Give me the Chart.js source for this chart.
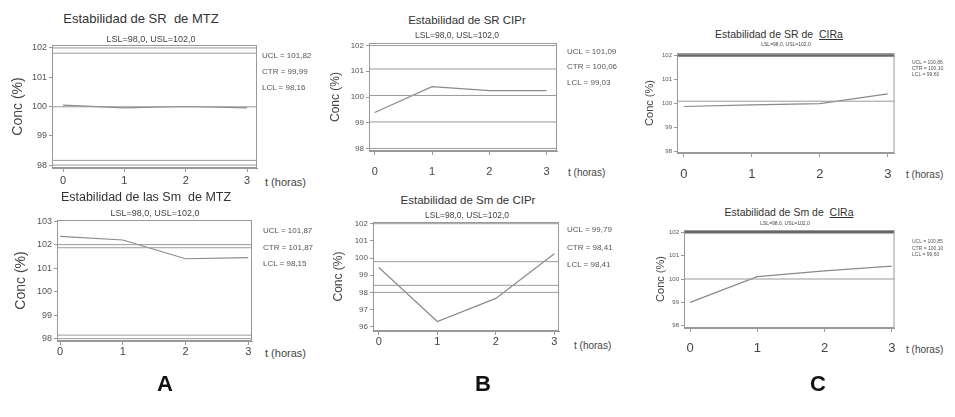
<!DOCTYPE html>
<html>
<head>
<meta charset="utf-8">
<script src="https://cdn.jsdelivr.net/npm/chart.js@4.4.1/dist/chart.umd.min.js"></script>
<style>
body { margin: 0; background: #fff; width: 955px; height: 417px; overflow: hidden; position: relative;
       font-family: "Liberation Sans", Arial, sans-serif; color: #333; }
.c { position: absolute; white-space: nowrap; transform: translate(-50%, -50%); }
.r { position: absolute; white-space: nowrap; transform: translateY(-50%); }
canvas { position: absolute; }
u { text-decoration: underline; }
</style>
</head>
<body>
<script>
// hours on the x axis
const hours = [0, 1, 2, 3];
const xTicks = [0, 1, 2, 3];

// A - MTZ
const srMTZ = [100.05, 99.95, 100.0, 99.95];
const srMTZLimits = [102.0, 101.82, 99.99, 98.16, 98.0];
const srMTZTicks = [98, 99, 100, 101, 102];
const smMTZ = [102.35, 102.2, 101.4, 101.45];
const smMTZLimits = [102.0, 101.87, 98.15, 98.0];
const smMTZTicks = [98, 99, 100, 101, 102, 103];

// B - CIPr
const srCIPr = [99.4, 100.4, 100.25, 100.25];
const srCIPrLimits = [102.0, 101.09, 100.06, 99.03, 98.0];
const srCIPrTicks = [98, 99, 100, 101, 102];
const smCIPr = [99.45, 96.3, 97.65, 100.25];
const smCIPrLimits = [102.0, 99.79, 98.41, 98.0];
const smCIPrTicks = [96, 97, 98, 99, 100, 101, 102];

// C - CIRa
const srCIRa = [99.88, 99.95, 100.0, 100.4];
const srCIRaLimits = [102.0, 100.1];
const srCIRaTicks = [98, 99, 100, 101, 102];
const smCIRa = [99.0, 100.1, 100.35, 100.55];
const smCIRaLimits = [102.0, 100.0];
const smCIRaTicks = [98, 99, 100, 101, 102];

const panels = [
    { values: srMTZ, limits: srMTZLimits, yTicks: srMTZTicks, box: [52, 45, 257, 168], yMin: 97.9, yMax: 102.1,
      xMin: -0.18, xMax: 3.16, axisW: 44, yTickSize: 9, xTickSize: 11, yTitleSize: 14, xLabelY: 181,
      title: 'Estabilidad de SR&nbsp; de MTZ', titleAt: [141, 18, 13], sub: 'LSL=98,0, USL=102,0', subAt: [151, 39, 9],
      notes: ['UCL = 101,82', 'CTR = 99,99', 'LCL = 98,16'], notesAt: [262, [55, 71, 87], 8], tAt: [265, 182, 11] },
    { values: smMTZ, limits: smMTZLimits, yTicks: smMTZTicks, box: [57, 220, 252, 341], yMin: 97.9, yMax: 103.05,
      xMin: -0.05, xMax: 3.06, axisW: 46, yTickSize: 9, xTickSize: 11, yTitleSize: 14, xLabelY: 352,
      title: 'Estabilidad de las Sm&nbsp; de MTZ', titleAt: [146, 197, 12.5], sub: 'LSL=98,0, USL=102,0', subAt: [155, 213, 9],
      notes: ['UCL = 101,87', 'CTR = 101,87', 'LCL = 98,15'], notesAt: [263, [230, 247, 263], 8], tAt: [265, 353, 11] },
    { values: srCIPr, limits: srCIPrLimits, yTicks: srCIPrTicks, box: [369, 43, 557, 151], yMin: 97.9, yMax: 102.1,
      xMin: -0.1, xMax: 3.18, axisW: 43, yTickSize: 8, xTickSize: 11, yTitleSize: 12, xLabelY: 172,
      title: 'Estabilidad de SR CIPr', titleAt: [467, 20, 11.5], sub: 'LSL=98,0, USL=102,0', subAt: [457, 35, 8.5],
      notes: ['UCL = 101,09', 'CTR = 100,06', 'LCL = 99,03'], notesAt: [567, [51, 66, 82], 8], tAt: [568, 172, 10] },
    { values: smCIPr, limits: smCIPrLimits, yTicks: smCIPrTicks, box: [373, 222, 559, 331], yMin: 95.75, yMax: 102.1,
      xMin: -0.1, xMax: 3.08, axisW: 44, yTickSize: 8, xTickSize: 11, yTitleSize: 12, xLabelY: 341,
      title: 'Estabilidad de Sm de CIPr', titleAt: [468, 200, 11.5], sub: 'LSL=98,0, USL=102,0', subAt: [467, 215, 8.5],
      notes: ['UCL = 99,79', 'CTR = 98,41', 'LCL = 98,41'], notesAt: [567, [229, 247, 264], 8], tAt: [574, 345, 10] },
    { values: srCIRa, limits: srCIRaLimits, yTicks: srCIRaTicks, box: [677, 53, 897, 153], yMin: 97.95, yMax: 102.1,
      xMin: -0.1, xMax: 3.1, axisW: 36, yTickSize: 6, xTickSize: 13, yTitleSize: 11, xLabelY: 174, thickTop: true,
      title: 'Estabilidad de SR de&nbsp; <u>CIRa</u>', titleAt: [779, 34, 10.5], sub: 'LSL=98,0, USL=102,0', subAt: [786, 44, 5],
      notes: ['UCL = 100,86', 'CTR = 100,10', 'LCL = 99,60'], notesAt: [912, [62, 68, 74], 5], tAt: [906, 174, 10] },
    { values: smCIRa, limits: smCIRaLimits, yTicks: smCIRaTicks, box: [684, 230, 900, 328], yMin: 97.9, yMax: 102.1,
      xMin: -0.09, xMax: 3.04, axisW: 32, yTickSize: 6, xTickSize: 13, yTitleSize: 11, xLabelY: 348, thickTop: true,
      title: 'Estabilidad de Sm de&nbsp; <u>CIRa</u>', titleAt: [789, 212, 10.5], sub: 'LSL=98,0, USL=102,0', subAt: [785, 223, 5],
      notes: ['UCL = 100,85', 'CTR = 100,10', 'LCL = 99,60'], notesAt: [912, [241, 248, 254], 5], tAt: [906, 349, 10] }
];

function addText(html, x, y, size, cls, extra) {
    const d = document.createElement('div');
    d.className = cls;
    d.innerHTML = html;
    d.style.left = x + 'px';
    d.style.top = y + 'px';
    d.style.fontSize = size + 'px';
    if (extra) Object.assign(d.style, extra);
    document.body.appendChild(d);
}

// box around the plot area
const frame = {
    id: 'frame',
    afterDatasetsDraw(chart) {
        const a = chart.chartArea, ctx = chart.ctx;
        ctx.save();
        ctx.strokeStyle = '#999';
        ctx.lineWidth = 1;
        ctx.strokeRect(a.left + 0.5, a.top + 0.5, a.right - a.left - 1, a.bottom - a.top - 1);
        ctx.restore();
    }
};

function makePanel(p) {
    const [l, t, r, b] = p.box;
    const padT = 8, padR = 4, axisH = 34;
    const canvas = document.createElement('canvas');
    canvas.width = p.axisW + (r - l) + padR;
    canvas.height = padT + (b - t) + axisH;
    canvas.style.left = (l - p.axisW) + 'px';
    canvas.style.top = (t - padT) + 'px';
    document.body.appendChild(canvas);

    const datasets = p.limits.map((v, i) => ({
        data: [{ x: p.xMin, y: v }, { x: p.xMax, y: v }],
        borderColor: (p.thickTop && i === 0) ? '#666' : '#9a9a9a',
        borderWidth: (p.thickTop && i === 0) ? 2.5 : 1,
        pointRadius: 0
    }));
    datasets.push({
        data: hours.map((h, i) => ({ x: h, y: p.values[i] })),
        borderColor: '#8a8a8a',
        borderWidth: 1.2,
        pointRadius: 0
    });

    new Chart(canvas, {
        type: 'line',
        data: { datasets },
        plugins: [frame],
        options: {
            responsive: false,
            animation: false,
            layout: { padding: { top: padT, right: padR, left: 0, bottom: 0 } },
            plugins: { legend: { display: false }, tooltip: { enabled: false } },
            scales: {
                x: {
                    type: 'linear', min: p.xMin, max: p.xMax,
                    afterBuildTicks: s => { s.ticks = xTicks.map(v => ({ value: v })); },
                    afterFit: s => { s.height = axisH; },
                    grid: { drawOnChartArea: false, tickLength: 4, color: '#999' },
                    border: { color: '#999' },
                    ticks: { color: '#444', font: { size: p.xTickSize, family: 'Liberation Sans' },
                             padding: Math.max(0, p.xLabelY - b - 4 - p.xTickSize / 2 - 1) }
                },
                y: {
                    min: p.yMin, max: p.yMax,
                    afterBuildTicks: s => { s.ticks = p.yTicks.map(v => ({ value: v })); },
                    afterFit: s => { s.width = p.axisW; },
                    grid: { drawOnChartArea: false, tickLength: 3, color: '#999' },
                    border: { color: '#999' },
                    ticks: { color: '#555', padding: 2, font: { size: p.yTickSize, family: 'Liberation Sans' } },
                    title: { display: true, text: 'Conc (%)', color: '#444', padding: { top: 2, bottom: 0 },
                             font: { size: p.yTitleSize, family: 'Liberation Sans' } }
                }
            }
        }
    });

    addText(p.title, p.titleAt[0], p.titleAt[1], p.titleAt[2], 'c', { color: '#333' });
    addText(p.sub, p.subAt[0], p.subAt[1], p.subAt[2], 'c', { color: '#444' });
    p.notes.forEach((n, i) => addText(n, p.notesAt[0], p.notesAt[1][i], p.notesAt[2], 'r', { color: '#555' }));
    addText('t (horas)', p.tAt[0], p.tAt[1], p.tAt[2], 'r', { color: '#444' });
}

panels.forEach(makePanel);

[['A', 165], ['B', 483], ['C', 818]].forEach(([s, x]) =>
    addText(s, x, 384, 22, 'c', { fontWeight: 'bold', color: '#111' }));
</script>
</body>
</html>
